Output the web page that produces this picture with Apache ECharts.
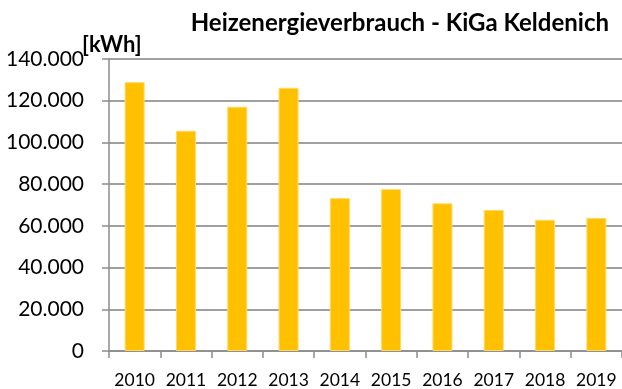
<!DOCTYPE html>
<html>
<head>
<meta charset="utf-8">
<script src="https://cdn.jsdelivr.net/npm/echarts@6/dist/echarts.min.js"></script>
<style>
  html, body { margin: 0; padding: 0; background: #fff; }
  #chart { width: 622px; height: 389px; }
</style>
</head>
<body>
<div id="chart"></div>
<script>
// Annual heating energy consumption, kWh
const years = ['2010', '2011', '2012', '2013', '2014', '2015', '2016', '2017', '2018', '2019'];
const consumption = [128900, 105600, 117100, 126200, 73300, 77600, 70800, 67600, 62900, 63800];
const yTicks = { min: 0, max: 140000, step: 20000 };

const titleText = 'Heizenergieverbrauch - KiGa Keldenich';
const unitText = '[kWh]';

// German thousands separator: 140000 -> "140.000"
function fmt(v) {
  return String(Math.round(v)).replace(/\B(?=(\d{3})+(?!\d))/g, '.');
}

const chart = echarts.init(document.getElementById('chart'), null, { renderer: 'canvas' });
const font = 'Lato, "Open Sans", sans-serif';

chart.setOption({
  animation: false,
  backgroundColor: '#ffffff',
  title: [
    {
      text: titleText,
      right: 8, top: 6,
      textStyle: { fontFamily: font, fontSize: 24, fontWeight: 'bold', color: '#000' }
    },
    {
      text: unitText,
      left: 77, top: 29,
      textStyle: { fontFamily: font, fontSize: 22, fontWeight: 'bold', color: '#000' }
    }
  ],
  grid: { left: 109, top: 59, width: 517, height: 294, containLabel: false },
  xAxis: {
    type: 'category',
    data: years,
    axisLine: { show: true, lineStyle: { color: '#8c8c8c', width: 1.5 } },
    axisTick: { show: true, alignWithLabel: false, length: 7, lineStyle: { color: '#8c8c8c', width: 1.5 } },
    axisLabel: { color: '#000', fontFamily: font, fontSize: 17.5, margin: 20, interval: 0, hideOverlap: false },
    splitLine: { show: false }
  },
  yAxis: {
    type: 'value',
    min: yTicks.min, max: yTicks.max, interval: yTicks.step,
    axisLine: { show: true, lineStyle: { color: '#8c8c8c', width: 1.5 } },
    axisTick: { show: true, length: 7, lineStyle: { color: '#8c8c8c', width: 1.5 } },
    axisLabel: { color: '#000', fontFamily: font, fontSize: 21, margin: 25, formatter: fmt },
    splitLine: { show: true, lineStyle: { color: '#a0a0a0', width: 2 } }
  },
  series: [{
    type: 'bar',
    data: consumption,
    barWidth: 20,
    itemStyle: { color: '#FFC000', borderColor: '#FFD966', borderWidth: 1 }
  }]
});
</script>
</body>
</html>
